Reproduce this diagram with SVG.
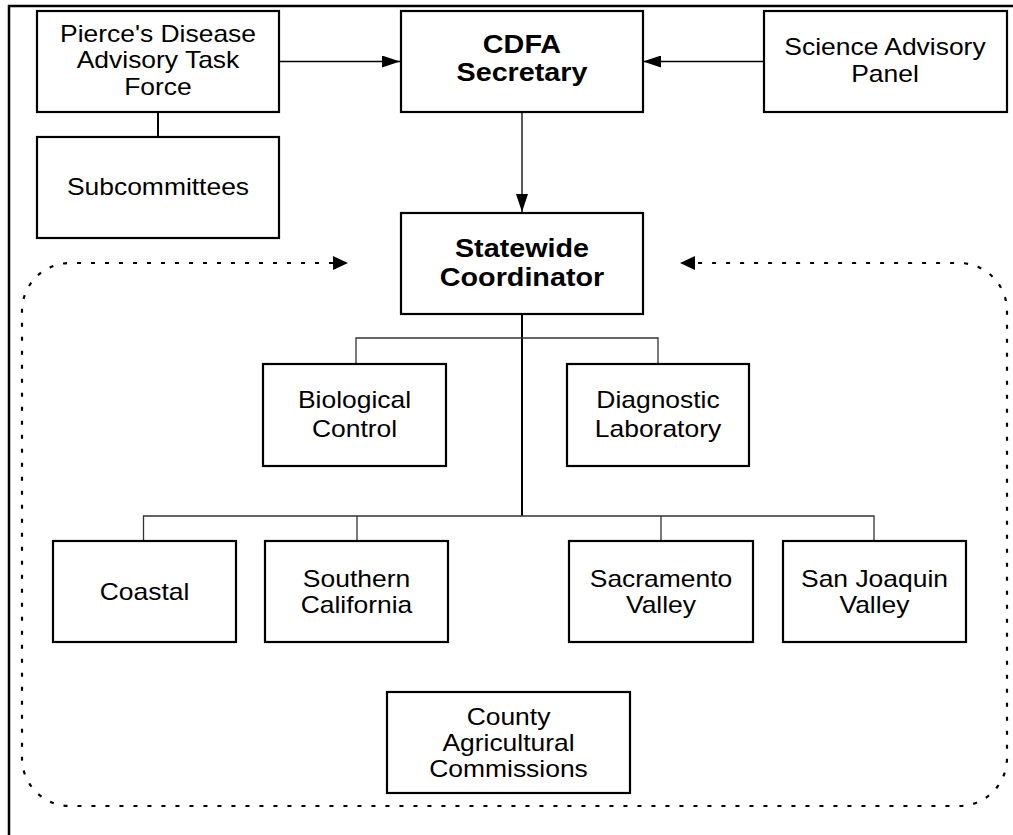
<svg xmlns="http://www.w3.org/2000/svg" width="1013" height="835" viewBox="0 0 1013 835">
<style>
.box{fill:#fff;stroke:#000;stroke-width:2.2}
.t{font-family:"Liberation Sans",Arial,sans-serif;font-size:23px;fill:#000;text-anchor:middle}
.b{font-family:"Liberation Sans",Arial,sans-serif;font-size:25px;font-weight:bold;fill:#000;text-anchor:middle}
.ln{fill:none;stroke:#000;stroke-width:1.3}
.br{fill:none;stroke:#333;stroke-width:1.3}
.trunk{fill:none;stroke:#000;stroke-width:2}
.dot{fill:none;stroke:#000;stroke-width:2.2;stroke-dasharray:4 10}
</style>
<defs>
<marker id="arr" markerUnits="userSpaceOnUse" markerWidth="18" markerHeight="12" refX="18" refY="6" orient="auto"><path d="M0,0 L18,6 L0,12 z" fill="#000"/></marker>
<marker id="darr" markerUnits="userSpaceOnUse" markerWidth="15" markerHeight="14" refX="0" refY="7" orient="auto-start-reverse"><path d="M0,0 L15,7 L0,14 z" fill="#000"/></marker>
</defs>
<rect width="1013" height="835" fill="#fff"/>
<path d="M9,835 V6 H1013" fill="none" stroke="#000" stroke-width="2.5"/>

<g id="connectors">
<line class="ln" x1="279" y1="61.5" x2="400" y2="61.5" marker-end="url(#arr)"/>
<line class="ln" x1="763" y1="61.5" x2="643" y2="61.5" marker-end="url(#arr)"/>
<line class="ln" x1="522" y1="112" x2="522" y2="212" marker-end="url(#arr)"/>
<line class="trunk" x1="158" y1="112" x2="158" y2="137"/>
<line class="trunk" x1="522" y1="314" x2="522" y2="516"/>
<path class="br" d="M356,364 V338 H658 V364"/>
<path class="br" d="M143.5,541 V516 H874 V541 M357,516 V541 M661,516 V541"/>
<path class="dot" d="M333,263 H70 A48,48 0 0 0 22,311 V758 A48,48 0 0 0 70,806 H959 A48,48 0 0 0 1007,758 V311 A48,48 0 0 0 959,263 H695" marker-start="url(#darr)" marker-end="url(#darr)"/>
</g>

<g id="pierce">
<rect class="box" x="37" y="11" width="242" height="101"/>
<g transform="translate(158,0) scale(1.15,1)">
<text class="t" x="0" y="41.7">Pierce's Disease</text>
<text class="t" x="0" y="68.3">Advisory Task</text>
<text class="t" x="0" y="95">Force</text>
</g>
</g>
<g id="subcommittees">
<rect class="box" x="37" y="137" width="242" height="101"/>
<g transform="translate(158,0) scale(1.15,1)"><text class="t" x="0" y="195">Subcommittees</text></g>
</g>
<g id="cdfa">
<rect class="box" x="401" y="11" width="242" height="101"/>
<g transform="translate(522,0) scale(1.15,1)">
<text class="b" x="0" y="53">CDFA</text>
<text class="b" x="0" y="81">Secretary</text>
</g>
</g>
<g id="science">
<rect class="box" x="764" y="11" width="243" height="101"/>
<g transform="translate(885,0) scale(1.15,1)">
<text class="t" x="0" y="55">Science Advisory</text>
<text class="t" x="0" y="82">Panel</text>
</g>
</g>
<g id="statewide">
<rect class="box" x="401" y="213" width="242" height="101"/>
<g transform="translate(522,0) scale(1.15,1)">
<text class="b" x="0" y="257">Statewide</text>
<text class="b" x="0" y="286">Coordinator</text>
</g>
</g>
<g id="biological">
<rect class="box" x="263" y="364" width="183" height="102"/>
<g transform="translate(354.5,0) scale(1.15,1)">
<text class="t" x="0" y="408">Biological</text>
<text class="t" x="0" y="437">Control</text>
</g>
</g>
<g id="diagnostic">
<rect class="box" x="567" y="364" width="182" height="102"/>
<g transform="translate(658,0) scale(1.15,1)">
<text class="t" x="0" y="408">Diagnostic</text>
<text class="t" x="0" y="437">Laboratory</text>
</g>
</g>
<g id="coastal">
<rect class="box" x="53" y="541" width="183" height="101"/>
<g transform="translate(144.5,0) scale(1.15,1)"><text class="t" x="0" y="600">Coastal</text></g>
</g>
<g id="southern">
<rect class="box" x="265" y="541" width="183" height="101"/>
<g transform="translate(356.5,0) scale(1.15,1)">
<text class="t" x="0" y="587">Southern</text>
<text class="t" x="0" y="613">California</text>
</g>
</g>
<g id="sacramento">
<rect class="box" x="569" y="541" width="184" height="101"/>
<g transform="translate(661,0) scale(1.15,1)">
<text class="t" x="0" y="587">Sacramento</text>
<text class="t" x="0" y="613">Valley</text>
</g>
</g>
<g id="sanjoaquin">
<rect class="box" x="783" y="541" width="183" height="101"/>
<g transform="translate(874.5,0) scale(1.15,1)">
<text class="t" x="0" y="587">San Joaquin</text>
<text class="t" x="0" y="613">Valley</text>
</g>
</g>
<g id="county">
<rect class="box" x="387" y="692" width="243" height="101"/>
<g transform="translate(508.5,0) scale(1.15,1)">
<text class="t" x="0" y="725">County</text>
<text class="t" x="0" y="751">Agricultural</text>
<text class="t" x="0" y="777">Commissions</text>
</g>
</g>
</svg>
